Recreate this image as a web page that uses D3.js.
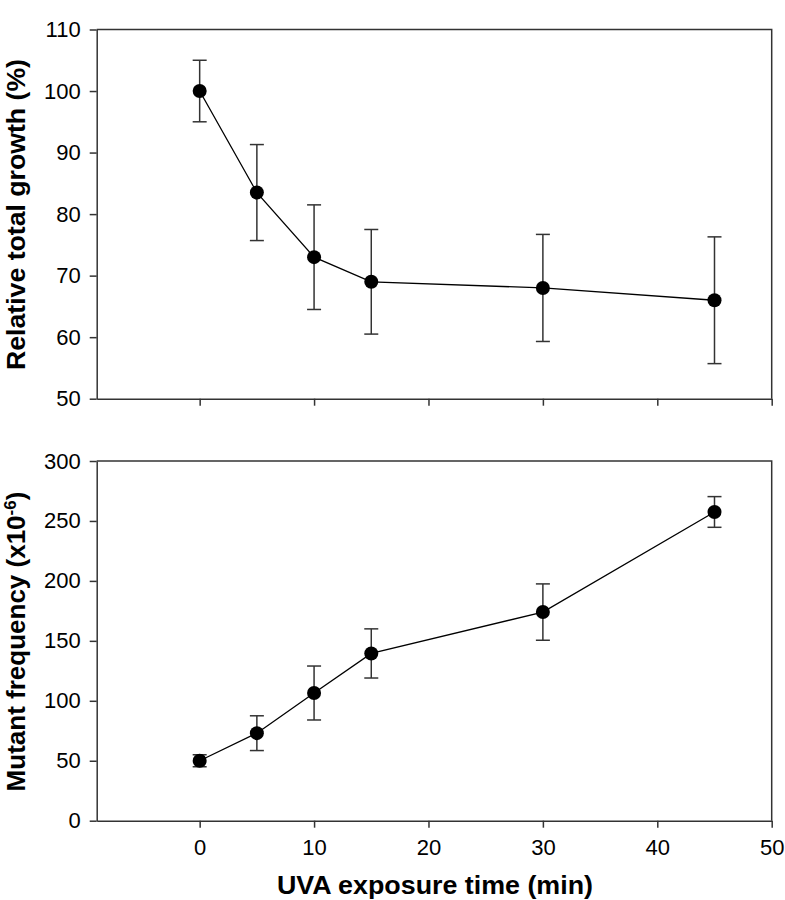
<!DOCTYPE html>
<html>
<head>
<meta charset="utf-8">
<script src="https://cdn.jsdelivr.net/npm/d3@7"></script>
<style>
  html, body { margin: 0; padding: 0; background: #fff; }
  svg { display: block; }
  .tick text { font-family: "Liberation Sans", Arial, sans-serif; fill: #000; }
  .title { font-family: "Liberation Sans", Arial, sans-serif; font-size: 25px; font-weight: bold; fill: #000; }
</style>
</head>
<body>
<script>
const times = [0, 5, 10, 15, 30, 45];
const growth = [100, 83.5, 73, 69, 68, 66];
const growthErr = [5, 7.8, 8.5, 8.5, 8.7, 10.3];
const mutant = [50, 73, 106.5, 139.5, 174, 257.5];
const mutantErr = [5, 14.5, 22.5, 20.5, 23.5, 12.8];
const xTicks = [0, 10, 20, 30, 40, 50];
const growthTicks = [50, 60, 70, 80, 90, 100, 110];
const mutantTicks = [0, 50, 100, 150, 200, 250, 300];

const W = 785, H = 900;
const svg = d3.select("body").append("svg").attr("width", W).attr("height", H);

const x = d3.scaleLinear().domain([-9, 50]).range([96.7, 771.7]);

function panel(top, bottom, domain, ticks, vals, errs, showXLabels) {
  const y = d3.scaleLinear().domain(domain).range([bottom, top]);
  const g = svg.append("g");
  g.append("path")
    .attr("d", `M${x.range()[0]},${top}H${x.range()[1]}V${bottom}`)
    .attr("fill", "none").attr("stroke", "#333").attr("stroke-width", 1.5);
  const yAxis = g.append("g").attr("transform", `translate(${x.range()[0]},0)`)
    .call(d3.axisLeft(y).tickValues(ticks).tickSize(7).tickSizeOuter(0).tickPadding(9));
  const xAxis = g.append("g").attr("transform", `translate(0,${bottom})`)
    .call(d3.axisBottom(x).tickValues(xTicks).tickSize(7).tickSizeOuter(0).tickPadding(12)
      .tickFormat(showXLabels ? d3.format("d") : () => ""));
  [yAxis, xAxis].forEach(a => {
    a.select(".domain").attr("stroke", "#333").attr("stroke-width", 1.5);
    a.selectAll(".tick line").attr("stroke", "#333").attr("stroke-width", 1.5);
    a.selectAll(".tick text").style("font-size", "22px");
  });
  const line = d3.line().x((d, i) => x(times[i])).y(d => y(d));
  g.append("path").datum(vals).attr("d", line)
    .attr("fill", "none").attr("stroke", "#000").attr("stroke-width", 1.3);
  const eb = g.append("g").attr("stroke", "#333").attr("stroke-width", 1.5);
  vals.forEach((v, i) => {
    const cx = x(times[i]);
    eb.append("line").attr("x1", cx).attr("x2", cx).attr("y1", y(v + errs[i])).attr("y2", y(v - errs[i]));
    eb.append("line").attr("x1", cx - 7).attr("x2", cx + 7).attr("y1", y(v + errs[i])).attr("y2", y(v + errs[i]));
    eb.append("line").attr("x1", cx - 7).attr("x2", cx + 7).attr("y1", y(v - errs[i])).attr("y2", y(v - errs[i]));
  });
  g.selectAll("circle.pt").data(vals).enter().append("circle")
    .attr("cx", (d, i) => x(times[i])).attr("cy", d => y(d)).attr("r", 7).attr("fill", "#000");
  return y;
}

panel(29.5, 398.7, [50, 110], growthTicks, growth, growthErr, false);
panel(461, 820.7, [0, 300], mutantTicks, mutant, mutantErr, true);

svg.append("text").attr("class", "title")
  .attr("transform", "translate(25,214.5) rotate(-90)").attr("text-anchor", "middle")
  .attr("textLength", 311).attr("lengthAdjust", "spacingAndGlyphs")
  .text("Relative total growth (%)");

const t2 = svg.append("text").attr("class", "title").style("font-size", "26px")
  .attr("transform", "translate(25,641.5) rotate(-90)").attr("text-anchor", "middle");
t2.append("tspan").text("Mutant frequency (x10");
t2.append("tspan").attr("dy", -9).style("font-size", "17px").text("-6");
t2.append("tspan").attr("dy", 9).text(")");

svg.append("text").attr("class", "title")
  .attr("x", 435).attr("y", 894).attr("text-anchor", "middle")
  .attr("textLength", 316).attr("lengthAdjust", "spacingAndGlyphs")
  .text("UVA exposure time (min)");
</script>
</body>
</html>
